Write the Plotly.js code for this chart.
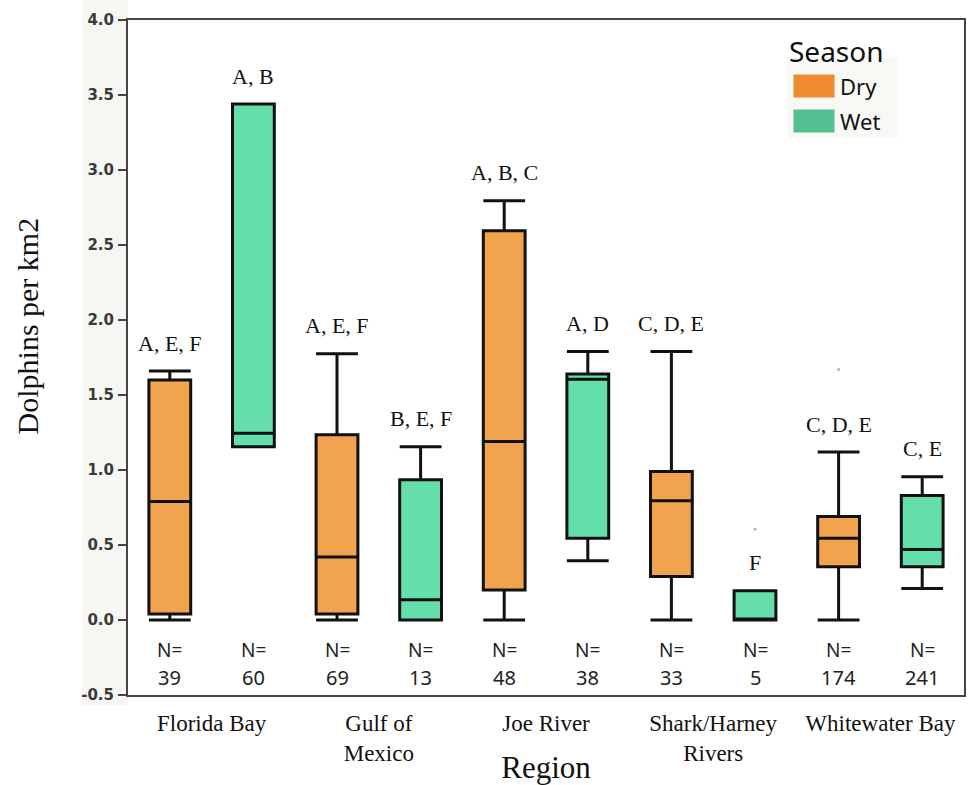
<!DOCTYPE html>
<html>
<head>
<meta charset="utf-8">
<script src="https://cdn.plot.ly/plotly-3.0.1.min.js"></script>
<style>html,body{margin:0;padding:0;background:#fff;}#chart{width:968px;height:785px;}</style>
</head>
<body>
<div id="chart"></div>
<script>
// ---- data ----
const regions = ['Florida Bay', 'Gulf of Mexico', 'Joe River', 'Shark/Harney Rivers', 'Whitewater Bay'];
const regionTickText = ['Florida Bay', 'Gulf of<br>Mexico', 'Joe River', 'Shark/Harney<br>Rivers', 'Whitewater Bay'];
const seasons = ['Dry', 'Wet'];
const yTickValues = [-0.5, 0, 0.5, 1.0, 1.5, 2.0, 2.5, 3.0, 3.5, 4.0];

const dryLower  = [0.00, 0.00, 0.00, 0.00, 0.00];
const dryQ1     = [0.04, 0.04, 0.20, 0.29, 0.355];
const dryMedian = [0.79, 0.42, 1.19, 0.795, 0.545];
const dryQ3     = [1.60, 1.235, 2.595, 0.99, 0.69];
const dryUpper  = [1.66, 1.775, 2.795, 1.79, 1.12];

const wetLower  = [1.155, 0.00, 0.395, 0.00, 0.21];
const wetQ1     = [1.155, 0.00, 0.545, 0.00, 0.355];
const wetMedian = [1.245, 0.135, 1.605, 0.00, 0.47];
const wetQ3     = [3.44, 0.935, 1.64, 0.195, 0.83];
const wetUpper  = [3.44, 1.155, 1.79, 0.195, 0.955];

const dryN = [39, 69, 48, 33, 174];
const wetN = [60, 13, 38, 5, 241];

const dryLetters = ['A, E, F', 'A, E, F', 'A, B, C', 'C, D, E', 'C, D, E'];
const wetLetters = ['A, B', 'B, E, F', 'A, D', 'F', 'C, E'];

const outlierRegion = ['Shark/Harney Rivers', 'Whitewater Bay'];
const outlierSeason = ['Wet', 'Dry'];
const outlierValue  = [0.605, 1.67];

// ---- styles ----
const dryFill = 'rgb(242,163,78)';
const wetFill = 'rgb(100,223,172)';
const dryLegend = 'rgb(238,139,47)';
const wetLegend = 'rgb(82,192,143)';
const serif = 'Liberation Serif, Times New Roman, serif';
const sans = 'Noto Sans, Liberation Sans, sans-serif';
const groupOffset = 0.25;

function boxTrace(name, q1, med, q3, lf, uf, fill) {
  return {
    type: 'box', name: name, x: regions,
    q1: q1, median: med, q3: q3, lowerfence: lf, upperfence: uf,
    fillcolor: fill, line: {color: '#111', width: 3},
    whiskerwidth: 1, boxpoints: false, offsetgroup: name,
    showlegend: false, hoverinfo: 'skip'
  };
}

const traces = [
  boxTrace('Dry', dryQ1, dryMedian, dryQ3, dryLower, dryUpper, dryFill),
  boxTrace('Wet', wetQ1, wetMedian, wetQ3, wetLower, wetUpper, wetFill),
  {
    type: 'scatter', mode: 'markers', xaxis: 'x2', yaxis: 'y',
    x: outlierRegion.map((r, i) => regions.indexOf(r) + (outlierSeason[i] === 'Dry' ? -groupOffset : groupOffset)),
    y: outlierValue,
    marker: {color: '#b5b5b5', size: 3},
    showlegend: false, hoverinfo: 'skip'
  }
];

const annotations = [];
regions.forEach((r, i) => {
  [[dryLetters, dryUpper, dryN, -groupOffset], [wetLetters, wetUpper, wetN, groupOffset]].forEach(([letters, upper, ns, off]) => {
    annotations.push({
      xref: 'x', yref: 'y', x: i + off, y: upper[i], text: letters[i],
      showarrow: false, yanchor: 'middle', yshift: 28,
      font: {family: serif, size: 22, color: '#111'}
    });
    annotations.push({
      xref: 'x', yref: 'y', x: i + off, y: 0, text: 'N=',
      showarrow: false, yanchor: 'middle', yshift: -30,
      font: {family: sans, size: 19, color: '#222'}
    });
    annotations.push({
      xref: 'x', yref: 'y', x: i + off, y: 0, text: String(ns[i]),
      showarrow: false, yanchor: 'middle', yshift: -57,
      font: {family: sans, size: 20, color: '#222'}
    });
  });
});

// y-axis title
annotations.push({
  xref: 'paper', yref: 'paper', x: -0.12, y: 0.547, text: 'Dolphins per km2',
  textangle: -90, showarrow: false, xanchor: 'center', yanchor: 'middle',
  font: {family: serif, size: 30, color: '#111'}
});

// legend (built from annotations so swatches match the reference size)
annotations.push({
  xref: 'paper', yref: 'paper', x: 0.848, y: 0.954, text: 'Season',
  showarrow: false, xanchor: 'center', yanchor: 'middle',
  font: {family: sans, size: 28, color: '#111'}
});
[[seasons[0], dryLegend, 0.902], [seasons[1], wetLegend, 0.850]].forEach(([s, c, yy]) => {
  annotations.push({
    xref: 'paper', yref: 'paper', x: 0.8205, y: yy, text: ' ',
    showarrow: false, xanchor: 'center', yanchor: 'middle',
    width: 40, height: 22, bgcolor: c, borderpad: 0,
    font: {size: 10}
  });
  annotations.push({
    xref: 'paper', yref: 'paper', x: 0.849, y: yy, text: s,
    showarrow: false, xanchor: 'left', yanchor: 'middle',
    font: {family: sans, size: 22, color: '#111'}
  });
});

const layout = {
  width: 968, height: 785,
  margin: {l: 128, r: 4, t: 20, b: 90},
  paper_bgcolor: '#fff', plot_bgcolor: '#fff',
  boxmode: 'group', boxgap: 0, boxgroupgap: 0.5,
  showlegend: false,
  xaxis: {
    type: 'category', range: [-0.5, 4.5], fixedrange: true,
    tickmode: 'array', tickvals: regions, ticktext: regionTickText,
    ticks: '', showgrid: false, zeroline: false,
    showline: true, linecolor: '#444', linewidth: 2, mirror: true,
    tickfont: {family: serif, size: 23, color: '#111'},
    ticklabelstandoff: 6,
    title: {text: 'Region', font: {family: serif, size: 31, color: '#111'}, standoff: 0}
  },
  xaxis2: {
    overlaying: 'x', range: [-0.5, 4.5], visible: false, fixedrange: true
  },
  yaxis: {
    range: [-0.5, 4.0],
    tickmode: 'array', tickvals: yTickValues, ticktext: yTickValues.map(v => v.toFixed(1)),
    ticks: 'outside', ticklen: 8, tickwidth: 2, tickcolor: '#444',
    showgrid: false, zeroline: false,
    showline: true, linecolor: '#444', linewidth: 2, mirror: true,
    tickfont: {family: 'DejaVu Sans, sans-serif', size: 15, color: '#3a3a3a', weight: 'bold'},
    ticklabelstandoff: 1
  },
  shapes: [
    {type: 'rect', xref: 'paper', yref: 'paper', x0: -0.055, x1: 0, y0: -0.015, y1: 1.03,
     fillcolor: '#f6f6f2', line: {width: 0}, layer: 'below'},
    {type: 'rect', xref: 'paper', yref: 'paper', x0: 0.788, x1: 0.920, y0: 0.825, y1: 0.945,
     fillcolor: '#f8f8f4', line: {width: 0}, layer: 'below'}
  ],
  annotations: annotations
};

Plotly.newPlot('chart', traces, layout, {displayModeBar: false, staticPlot: true});
</script>
</body>
</html>
